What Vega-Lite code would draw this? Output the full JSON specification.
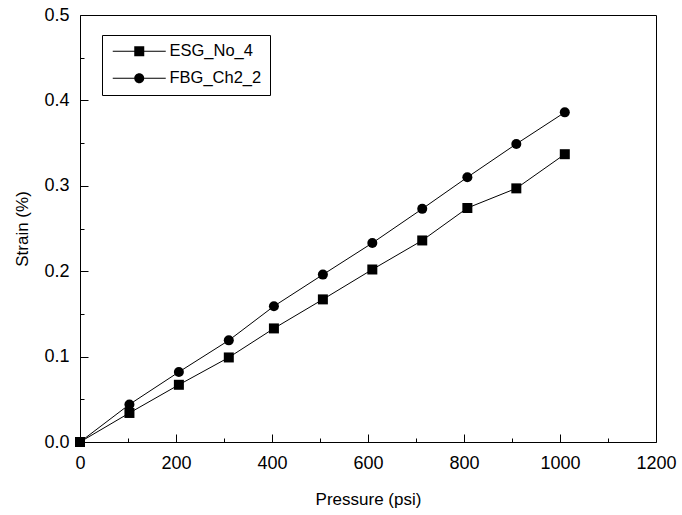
{
  "$schema": "https://vega.github.io/schema/vega-lite/v6.json",
  "autosize": {"type": "none"},
  "width": 576,
  "height": 427,
  "padding": {"left": 80, "top": 15, "right": 26, "bottom": 73},
  "background": "white",
  "config": {
    "font": "Liberation Sans",
    "view": {"stroke": "black", "strokeWidth": 1},
    "axis": {
      "domainColor": "black", "tickColor": "black", "labelColor": "black", "titleColor": "black",
      "labelFont": "Liberation Sans", "titleFont": "Liberation Sans",
      "labelFontSize": 18, "titleFontSize": 17, "titleFontWeight": "normal",
      "grid": false, "tickWidth": 1, "domainWidth": 1, "ticks": true, "zindex": 2, "labelFlush": false
    }
  },
  "data": {"values": [
    {"p": 0, "s": 0, "series": "ESG_No_4"},
    {"p": 103, "s": 0.034, "series": "ESG_No_4"},
    {"p": 206, "s": 0.067, "series": "ESG_No_4"},
    {"p": 310, "s": 0.099, "series": "ESG_No_4"},
    {"p": 404, "s": 0.133, "series": "ESG_No_4"},
    {"p": 506, "s": 0.167, "series": "ESG_No_4"},
    {"p": 609, "s": 0.202, "series": "ESG_No_4"},
    {"p": 713, "s": 0.236, "series": "ESG_No_4"},
    {"p": 807, "s": 0.274, "series": "ESG_No_4"},
    {"p": 909, "s": 0.297, "series": "ESG_No_4"},
    {"p": 1010, "s": 0.337, "series": "ESG_No_4"},
    {"p": 0, "s": 0, "series": "FBG_Ch2_2"},
    {"p": 103, "s": 0.044, "series": "FBG_Ch2_2"},
    {"p": 206, "s": 0.082, "series": "FBG_Ch2_2"},
    {"p": 310, "s": 0.119, "series": "FBG_Ch2_2"},
    {"p": 404, "s": 0.159, "series": "FBG_Ch2_2"},
    {"p": 506, "s": 0.196, "series": "FBG_Ch2_2"},
    {"p": 609, "s": 0.233, "series": "FBG_Ch2_2"},
    {"p": 713, "s": 0.273, "series": "FBG_Ch2_2"},
    {"p": 807, "s": 0.310, "series": "FBG_Ch2_2"},
    {"p": 909, "s": 0.349, "series": "FBG_Ch2_2"},
    {"p": 1010, "s": 0.386, "series": "FBG_Ch2_2"}
  ]},
  "resolve": {"axis": {"x": "independent", "y": "independent"}, "scale": {"shape": "independent"}, "legend": {"shape": "independent"}},
  "layer": [
    {
      "mark": {"type": "line", "color": "black", "strokeWidth": 1},
      "encoding": {
        "x": {"field": "p", "type": "quantitative", "scale": {"domain": [0, 1200], "nice": false},
          "axis": {"orient": "bottom", "offset": -8, "title": "Pressure (psi)", "format": "d", "values": [0, 200, 400, 600, 800, 1000, 1200], "tickSize": 8, "labelPadding": 12, "titlePadding": 19, "domain": false}},
        "y": {"field": "s", "type": "quantitative", "scale": {"domain": [0, 0.5], "nice": false},
          "axis": {"orient": "left", "offset": -8, "title": "Strain (%)", "values": [0, 0.1, 0.2, 0.3, 0.4, 0.5], "format": ".1f", "tickSize": 8, "labelPadding": 11, "titlePadding": 12, "domain": false}},
        "detail": {"field": "series"}
      }
    },
    {
      "mark": {"type": "line", "strokeOpacity": 0},
      "encoding": {
        "x": {"field": "p", "type": "quantitative",
          "axis": {"orient": "bottom", "offset": -4, "title": null, "labels": false, "values": [100, 300, 500, 700, 900, 1100], "tickSize": 4, "domain": false}},
        "y": {"field": "s", "type": "quantitative",
          "axis": {"orient": "left", "offset": -4, "title": null, "labels": false, "values": [0.05, 0.15, 0.25, 0.35, 0.45], "tickSize": 4, "domain": false}},
        "detail": {"field": "series"}
      }
    },
    {
      "mark": {"type": "point", "filled": true, "fill": "black", "strokeWidth": 0, "opacity": 1, "size": 100},
      "encoding": {
        "x": {"field": "p", "type": "quantitative", "axis": null},
        "y": {"field": "s", "type": "quantitative", "axis": null},
        "shape": {"field": "series", "type": "nominal",
          "scale": {"domain": ["ESG_No_4", "FBG_Ch2_2"], "range": ["square", "circle"]},
          "legend": null}
      }
    },
    {
      "transform": [{"filter": "datum.p < 0"}],
      "mark": {"type": "point", "filled": true, "fill": "black", "strokeWidth": 0, "opacity": 1, "size": 100},
      "encoding": {
        "x": {"field": "p", "type": "quantitative", "axis": null},
        "y": {"field": "s", "type": "quantitative", "axis": null},
        "shape": {"field": "series", "type": "nominal",
          "scale": {"domain": ["ESG_No_4", "FBG_Ch2_2"], "range": ["M-5.3,-0.1H-1V0.1H-5.3ZM1,-0.1H5.3V0.1H1ZM-1,-1H1V1H-1Z", "M-5.3,-0.1H-1V0.1H-5.3ZM1,-0.1H5.3V0.1H1ZM1,0A1,1,0,1,1,-1,0A1,1,0,1,1,1,0Z"]},
          "legend": {"orient": "none", "legendX": 22, "legendY": 20, "title": null, "strokeColor": "black", "padding": 8,
            "labelFont": "Liberation Sans", "labelFontSize": 16.5, "labelColor": "black",
            "symbolSize": 100, "symbolStrokeWidth": 0, "symbolFillColor": "black", "symbolOpacity": 1,
            "symbolOffset": 21, "labelOffset": 22, "rowPadding": 10}}
      }
    }
  ]
}
